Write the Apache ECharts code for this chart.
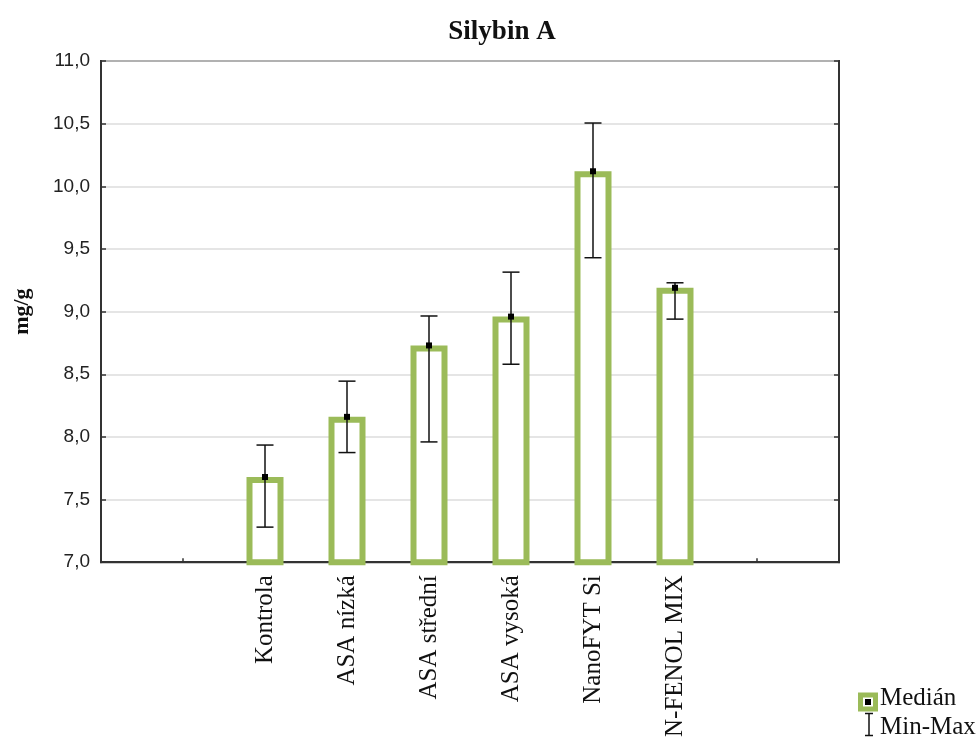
<!DOCTYPE html>
<html>
<head>
<meta charset="utf-8">
<script src="https://cdn.jsdelivr.net/npm/echarts@6/dist/echarts.min.js"></script>
<style>
  html, body { margin: 0; padding: 0; background: #fff; }
  #chart { width: 979px; height: 740px; }
</style>
</head>
<body>
<div id="chart"></div>
<script>
// Silybin A content per treatment group (mg/g): median with min-max range
const groups   = ['Kontrola', 'ASA nízká', 'ASA střední', 'ASA vysoká', 'NanoFYT Si', 'N-FENOL MIX'];
const medians  = [7.68, 8.16, 8.73, 8.96, 10.12, 9.19];
const minimums = [7.28, 7.875, 7.96, 8.58, 9.43, 8.94];
const maximums = [7.935, 8.445, 8.965, 9.315, 10.505, 9.23];

// Y scale
const yMin = 7.0, yMax = 11.0, yStep = 0.5;

const GREEN = '#9bbb59';
const SERIF = '"Liberation Serif", "Times New Roman", serif';
const SANS = '"Liberation Sans", Arial, sans-serif';

// Empty slots on both sides of the groups on the category axis
const pad = 2;
const axisCats = ['', ''].concat(groups, ['', '']);
const barData = axisCats.map((c, i) => {
  const k = i - pad;
  return (k >= 0 && k < groups.length) ? medians[k] : '-';
});
const rangeData = groups.map((g, k) => [k + pad, minimums[k], maximums[k], medians[k]]);

const chart = echarts.init(document.getElementById('chart'), null, { renderer: 'canvas' });

function renderRange(params, api) {
  const x = api.value(0);
  const lo = api.coord([x, api.value(1)]);
  const hi = api.coord([x, api.value(2)]);
  const md = api.coord([x, api.value(3)]);
  const cap = 8.5;
  const s = { stroke: '#111', lineWidth: 1.5 };
  return {
    type: 'group',
    children: [
      { type: 'line', shape: { x1: lo[0], y1: lo[1], x2: hi[0], y2: hi[1] }, style: s },
      { type: 'line', shape: { x1: lo[0] - cap, y1: lo[1], x2: lo[0] + cap, y2: lo[1] }, style: s },
      { type: 'line', shape: { x1: hi[0] - cap, y1: hi[1], x2: hi[0] + cap, y2: hi[1] }, style: s },
      { type: 'rect', shape: { x: md[0] - 3, y: md[1] - 3, width: 6, height: 6 }, style: { fill: '#000' } }
    ]
  };
}

const option = {
  animation: false,
  backgroundColor: '#fff',
  title: {
    text: 'Silybin A',
    left: 497,
    top: 14,
    textAlign: 'center',
    textStyle: { fontFamily: SERIF, fontWeight: 'bold', fontSize: 27, color: '#111' }
  },
  grid: {
    left: 101, right: 140, top: 61, bottom: 175,
    show: true, borderColor: '#333', borderWidth: 2, backgroundColor: 'transparent'
  },
  xAxis: {
    type: 'category',
    data: axisCats,
    boundaryGap: false,
    axisLine: { show: true, lineStyle: { color: '#333', width: 2 } },
    axisTick: { show: true, inside: true, length: 4, interval: 0, lineStyle: { color: '#333', width: 1.5 } },
    axisLabel: {
      interval: 0, rotate: 90, margin: 13,
      fontFamily: SERIF, fontSize: 25, color: '#111'
    },
    splitLine: { show: false }
  },
  yAxis: [{
    type: 'value',
    min: yMin, max: yMax, interval: yStep,
    name: 'mg/g',
    nameLocation: 'middle',
    nameGap: 68,
    nameRotate: 90,
    nameTextStyle: { fontFamily: SERIF, fontWeight: 'bold', fontSize: 22, color: '#111' },
    axisLine: { show: true, lineStyle: { color: '#333', width: 2 } },
    axisTick: { show: true, inside: true, length: 5, lineStyle: { color: '#333', width: 1.5 } },
    axisLabel: {
      margin: 11, fontFamily: SANS, fontSize: 19, color: '#222',
      formatter: v => v.toFixed(1).replace('.', ',')
    },
    splitLine: { show: true, lineStyle: { color: '#dcdcdc', width: 1.5 } }
  }, {
    type: 'value',
    position: 'right',
    min: yMin, max: yMax, interval: yStep,
    axisLine: { show: true, lineStyle: { color: '#333', width: 2 } },
    axisTick: { show: true, inside: true, length: 5, lineStyle: { color: '#333', width: 1.5 } },
    axisLabel: { show: false },
    splitLine: { show: false }
  }],
  series: [{
    name: 'Medián',
    type: 'bar',
    data: barData,
    barWidth: 37,
    clip: true,
    itemStyle: { color: '#fff', borderColor: GREEN, borderWidth: 6 },
    z: 2
  }, {
    name: 'Min-Max',
    type: 'custom',
    data: rangeData,
    renderItem: renderRange,
    encode: { x: 0, y: [1, 2] },
    z: 3
  }],
  graphic: [{
    type: 'group',
    left: 858,
    top: 686,
    children: [
      { type: 'rect', shape: { x: 2.5, y: 8.5, width: 15, height: 14 },
        style: { fill: '#fff', stroke: GREEN, lineWidth: 5 } },
      { type: 'rect', shape: { x: 7, y: 12.5, width: 6, height: 6 }, style: { fill: '#000' } },
      { type: 'text', x: 22, y: 12, style: { text: 'Medián', font: '25px ' + SERIF, fill: '#111', verticalAlign: 'middle' } },
      { type: 'line', shape: { x1: 11, y1: 27, x2: 11, y2: 49 }, style: { stroke: '#111', lineWidth: 1.5 } },
      { type: 'line', shape: { x1: 7, y1: 27, x2: 15, y2: 27 }, style: { stroke: '#111', lineWidth: 1.5 } },
      { type: 'line', shape: { x1: 7, y1: 49, x2: 15, y2: 49 }, style: { stroke: '#111', lineWidth: 1.5 } },
      { type: 'text', x: 22, y: 41, style: { text: 'Min-Max', font: '25px ' + SERIF, fill: '#111', verticalAlign: 'middle' } }
    ]
  }]
};

chart.setOption(option);
</script>
</body>
</html>
